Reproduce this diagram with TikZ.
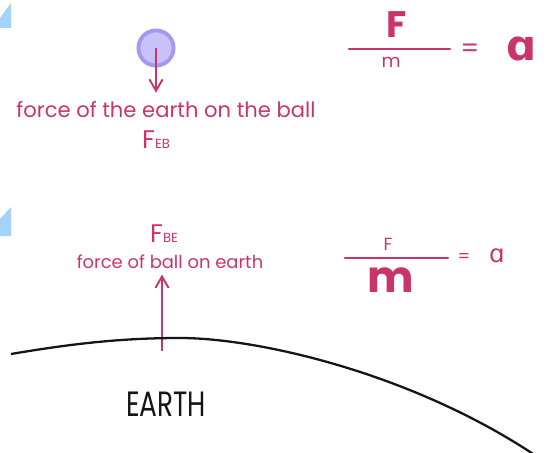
\documentclass[tikz,border=0pt]{standalone}
\usepackage{fontspec}
\setmainfont{Poppins}
\newfontfamily\alphafont{DejaVu Sans}
\usetikzlibrary{arrows.meta,positioning}
\definecolor{mpink}{HTML}{C9356A}
\definecolor{mball}{HTML}{C8C1FA}
\definecolor{mballL}{HTML}{A597F2}
\definecolor{mblue}{HTML}{A3D3FA}
\definecolor{ink}{HTML}{151515}
\tikzset{
  lbl/.style ={text=mpink, inner sep=0pt, font=\fontsize{10.2}{12}\selectfont},
  eqn/.style ={text=mpink, inner sep=0pt},
  bll/.style ={circle, fill=mball, draw=mballL, line width=2.2pt, minimum size=20pt, inner sep=0pt},
  frc/.style ={-{Straight Barb[length=6.5pt, width=7.5pt]}, line width=1.1pt, draw=mpink},
  bar/.style ={line width=1.3pt, draw=mpink, line cap=round},
  gnd/.style ={line width=1.3pt, draw=ink},
  ert/.style ={text=ink, inner sep=0pt, font=\fontsize{20}{22}\selectfont, xscale=0.75, transform shape},
}
\newcommand{\Fsub}[1]{{\fontsize{14.5}{15}\selectfont F}{\fontsize{7.5}{8}\selectfont #1}}

\begin{document}
\begin{tikzpicture}[x=0.02cm, y=-0.02cm]
\useasboundingbox (0,0) rectangle (553,452);

% ---------------- blue scraps at the left edge -------------------------------
\fill[mblue] (0,18) -- (11,3) -- (11,28) -- (0,28) -- cycle;
\fill[mblue] (0,219) -- (11,207) -- (11,236) -- (0,236) -- cycle;

% ---------------- ball and its force ------------------------------------------
\node[bll] (ball) at (156,48) {};
\node[lbl, font=\fontsize{12}{14}\selectfont] (feb-txt) at (166,110) {force of the earth on the ball};
\node[lbl] (feb) at (156,140) {\Fsub{EB}};
\draw[frc, shorten >=5pt] (ball.center) -- (ball.center |- feb-txt.north);

% F/m = a (big F)
\node[eqn, font=\fontsize{21}{22}\selectfont\bfseries] (f1) at (397,25) {F};
\coordinate (b1l) at (349,49);
\coordinate (b1r) at (450,49);
\draw[bar] (b1l) -- (b1r);
\node[eqn, font=\fontsize{10.5}{12}\selectfont] (m1) at (391,62) {m};
\node[eqn, font=\fontsize{15}{16}\selectfont] (eq1) at (470,51) {=};
\node[eqn, font=\alphafont\fontsize{24}{25}\selectfont\bfseries] (a1) at (522,49) {ɑ};

% ---------------- earth and its force -----------------------------------------
\node[lbl] (fbe) at (164,234) {\Fsub{BE}};
\node[lbl] (fbe-txt) at (170,262) {force of ball on earth};
\coordinate (surf) at (162,351);
\draw[frc, shorten >=3pt] (surf) -- (surf |- fbe-txt.south);

% F/m = a (big m)
\node[eqn, font=\fontsize{10}{12}\selectfont] (f2) at (388,244) {F};
\coordinate (b2l) at (345,258);
\coordinate (b2r) at (448,258);
\draw[bar] (b2l) -- (b2r);
\node[eqn, font=\fontsize{25}{26}\selectfont\bfseries] (m2) at (391,280) {m};
\node[eqn, font=\fontsize{10}{12}\selectfont] (eq2) at (464,258) {=};
\node[eqn, font=\alphafont\fontsize{14}{15}\selectfont] (a2) at (497,256) {ɑ};

% earth surface
\draw[gnd] (11,354) .. controls (70,344) and (120,338) .. (180,338)
  .. controls (260,338) and (420,375) .. (545,462);
\node[ert] (earth) at (166,404) {EARTH};

\end{tikzpicture}
\end{document}
